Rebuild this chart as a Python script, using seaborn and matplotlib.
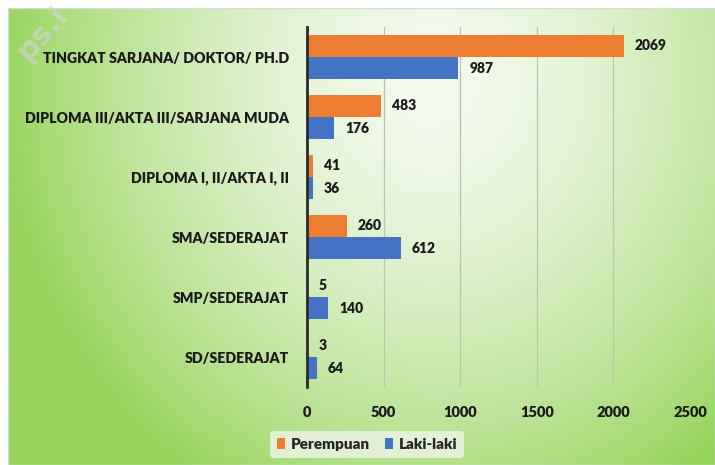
import numpy as np
import pandas as pd
import matplotlib
matplotlib.use('Agg')
import matplotlib.pyplot as plt
import seaborn as sns

categories = ['TINGKAT SARJANA/ DOKTOR/ PH.D', 'DIPLOMA III/AKTA III/SARJANA MUDA',
              'DIPLOMA I, II/AKTA I, II', 'SMA/SEDERAJAT', 'SMP/SEDERAJAT', 'SD/SEDERAJAT']
perempuan = [2069, 483, 41, 260, 5, 3]
laki_laki = [987, 176, 36, 612, 140, 64]
series = ['Perempuan', 'Laki-laki']
x_ticks = [0, 500, 1000, 1500, 2000, 2500]

df = pd.DataFrame({
    'Pendidikan': categories * 2,
    'Jumlah': perempuan + laki_laki,
    'Jenis': [series[0]] * len(categories) + [series[1]] * len(categories),
})

sns.set_style('white')
plt.rcParams['font.family'] = ['Lato', 'DejaVu Sans']
W = 'heavy'

fig = plt.figure(figsize=(7.15, 4.65), dpi=100)
fig.patch.set_facecolor('white')

# green gradient panel behind the chart
bg = fig.add_axes([8 / 715, 0, 1 - 8 / 715, 1 - 8 / 465], zorder=0)
h, w = 200, 300
yy, xx = np.mgrid[0:h, 0:w]
d = np.sqrt(((xx / w - 0.6) / 0.62) ** 2 + ((yy / h - 0.15) / 1.05) ** 2)
t = np.clip(d, 0, 1) ** 1.6
light = np.array([244, 250, 238]) / 255
green = np.array([150, 213, 92]) / 255
img = light + (green - light) * t[..., None]
bg.imshow(img, aspect='auto', extent=[0, 1, 0, 1])
bg.set_axis_off()
bg.add_patch(plt.Rectangle((0, 0), 1, 1, fill=False, ec='#d8dcd4', lw=1.0,
                           transform=bg.transAxes))

# faint watermark at the top-left corner
fig.text(0.015, 0.87, 'ps.i', rotation=48, fontsize=22, color='#d4d4d4',
         alpha=0.6, fontweight='bold', family=['DejaVu Sans'])

ax = fig.add_axes([307 / 715, 1 - 387 / 465, (690 - 307) / 715, (387 - 27) / 465], zorder=1)
ax.patch.set_alpha(0)

sns.barplot(data=df, y='Pendidikan', x='Jumlah', hue='Jenis', orient='h',
            palette=['#ED7D31', '#4472C4'], width=0.74, saturation=1,
            linewidth=0, ax=ax, legend=True)

for cont in ax.containers:
    ax.bar_label(cont, padding=8, fontsize=10, fontweight=W, color='#1a1a1a')

ax.set_xlim(0, 2500)
ax.set_ylim(5.5, -0.5)
ax.set_xticks(x_ticks)
ax.set_xticklabels([str(v) for v in x_ticks], fontsize=10.5, fontweight=W, color='#1a1a1a')
ax.tick_params(axis='x', length=0, pad=14)
ax.tick_params(axis='y', length=0, pad=13, labelsize=10.2, labelcolor='#1a1a1a')
for lab in ax.get_yticklabels():
    lab.set_fontweight(W)
ax.set_xlabel('')
ax.set_ylabel('')
ax.grid(axis='x', color='#b7c7ad', lw=0.9)
ax.set_axisbelow(True)
for s in ['top', 'right', 'bottom']:
    ax.spines[s].set_visible(False)
ax.spines['left'].set_color('#2b2b2b')
ax.spines['left'].set_linewidth(2)

handles, labels = ax.get_legend_handles_labels()
leg = ax.legend(handles, labels, loc='upper center', bbox_to_anchor=(0.157, -0.1),
                ncol=2, frameon=True, fontsize=11, handlelength=0.5, handleheight=0.8,
                handletextpad=0.4, columnspacing=1.0, borderpad=0.45)
leg.get_frame().set_facecolor('#eef5e8')
leg.get_frame().set_edgecolor('none')
leg.get_frame().set_alpha(0.8)
for txt in leg.get_texts():
    txt.set_fontweight(W)

fig.savefig('out.png', dpi=100)
